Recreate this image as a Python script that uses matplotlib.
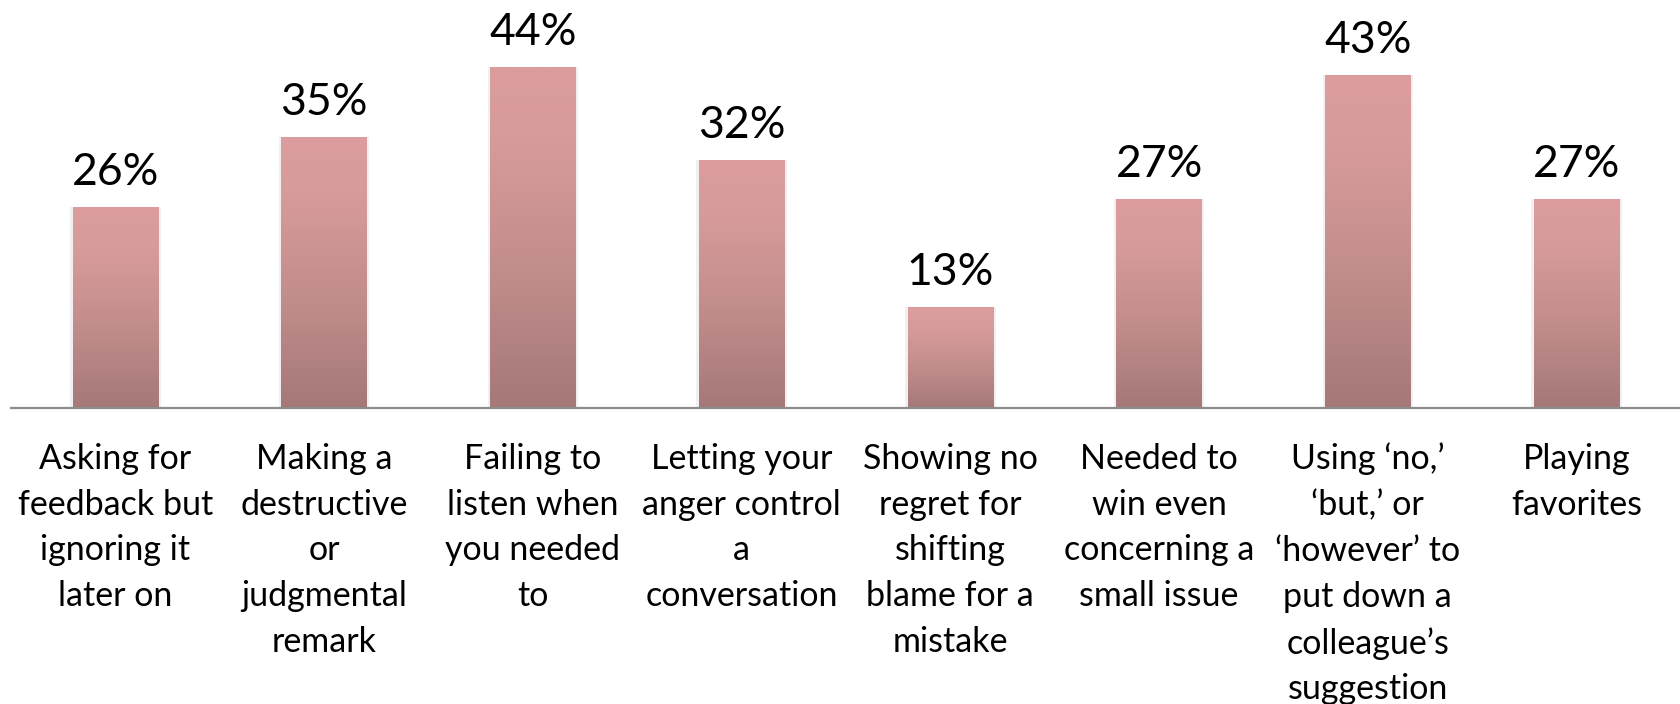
import matplotlib.pyplot as plt
import numpy as np
from matplotlib.colors import LinearSegmentedColormap

plt.rcParams["font.family"] = ["Lato", "DejaVu Sans"]

categories = [
    "Asking for\nfeedback but\nignoring it\nlater on",
    "Making a\ndestructive\nor\njudgmental\nremark",
    "Failing to\nlisten when\nyou needed\nto",
    "Letting your\nanger control\na\nconversation",
    "Showing no\nregret for\nshifting\nblame for a\nmistake",
    "Needed to\nwin even\nconcerning a\nsmall issue",
    "Using \u2018no,\u2019\n\u2018but,\u2019 or\n\u2018however\u2019 to\nput down a\ncolleague\u2019s\nsuggestion",
    "Playing\nfavorites",
]
percent = [26, 35, 44, 32, 13, 27, 43, 27]

# vertical fade used inside every bar: light rose at the top, dusty mauve at the base
bar_cmap = LinearSegmentedColormap.from_list(
    "rose", [(0.0, "#a67878"), (0.45, "#c58f8f"), (0.8, "#d89b9b"), (1.0, "#db9d9d")]
)

fig = plt.figure(figsize=(16.81, 7.04), dpi=100)
ax = fig.add_axes([11 / 1681, 1 - 408 / 704, 1670 / 1681, 408 / 704])

x = np.arange(len(categories))
width = 0.41
ax.set_xlim(-0.5, len(categories) - 0.5)
ax.set_ylim(0, 408 / 7.75)

grad = np.linspace(0, 1, 256).reshape(-1, 1)
for xi, val in zip(x, percent):
    # soft drop shadow behind the bar
    shadow = plt.Rectangle((xi - width / 2 - 0.012, -0.3), width + 0.024, val + 0.3,
                           facecolor="#000000", alpha=0.06, edgecolor="none", zorder=1)
    ax.add_patch(shadow)
    rect = plt.Rectangle((xi - width / 2, 0), width, val, facecolor="none",
                         edgecolor="none", zorder=2)
    ax.add_patch(rect)
    im = ax.imshow(grad, cmap=bar_cmap, origin="lower", aspect="auto",
                   extent=(xi - width / 2, xi + width / 2, 0, val), zorder=2)
    im.set_clip_path(rect)
    ax.annotate(f"{val}%", (xi, val), xytext=(0, 10), textcoords="offset points",
                ha="center", va="bottom", fontsize=32, color="#000000")

ax.set_xticks(x)
ax.set_xticklabels(categories, fontsize=24.5, linespacing=1.53, va="top")
ax.tick_params(axis="x", length=0, pad=25)
ax.set_yticks([])
for side in ["top", "right", "left"]:
    ax.spines[side].set_visible(False)
ax.spines["bottom"].set_color("#8c8c8c")
ax.spines["bottom"].set_linewidth(1.6)
ax.spines["bottom"].set_zorder(3)

fig.savefig("out.png", dpi=100, facecolor="white")
